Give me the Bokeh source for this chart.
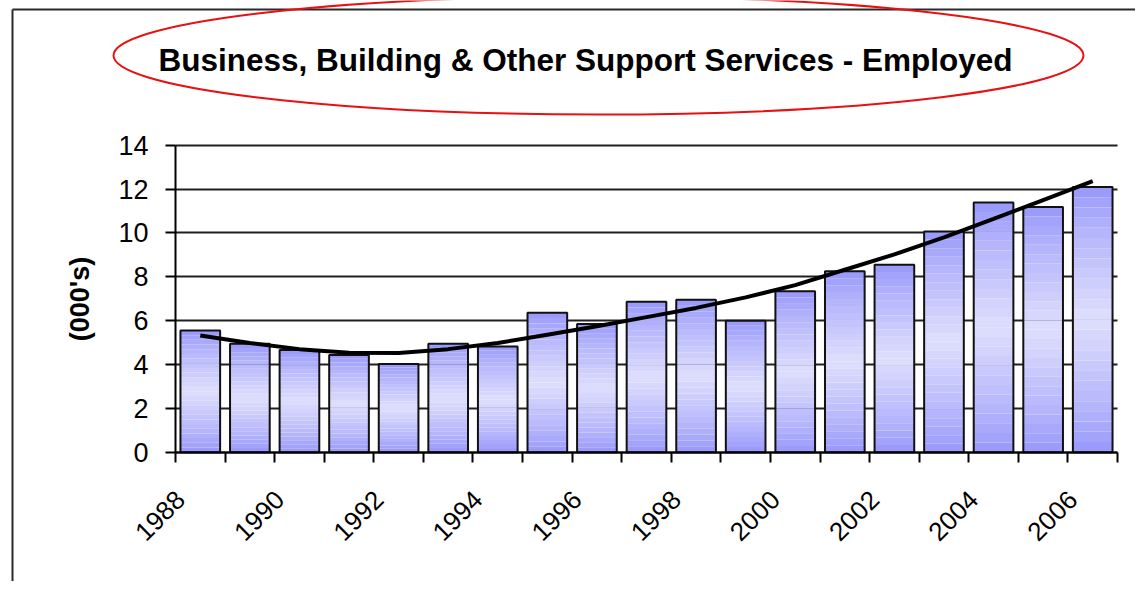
import math
from bokeh.plotting import figure
from bokeh.models import Range1d, LinearAxis, FixedTicker, Grid, Label
from bokeh.embed import file_html
from bokeh.resources import INLINE

# ---------------- data ----------------
years = [1988, 1989, 1990, 1991, 1992, 1993, 1994, 1995, 1996, 1997,
         1998, 1999, 2000, 2001, 2002, 2003, 2004, 2005, 2006]
employed = [5.55, 4.94, 4.66, 4.43, 4.02, 4.94, 4.82, 6.36, 5.85, 6.86,
            6.95, 6.0, 7.34, 8.25, 8.55, 10.07, 11.39, 11.18, 12.09]
trend = [5.32, 4.98, 4.70, 4.53, 4.52, 4.70, 4.98, 5.36, 5.74, 6.16,
         6.58, 7.06, 7.62, 8.32, 9.02, 9.80, 10.64, 11.50, 12.36]
label_years = [1988, 1990, 1992, 1994, 1996, 1998, 2000, 2002, 2004, 2006]
y_ticks = [0, 2, 4, 6, 8, 10, 12, 14]
title_text = "Business, Building & Other Support Services - Employed"
y_title = "(000's)"

# ---------------- layout (page pixels) ----------------
W, H = 1135, 581          # figure size
OFF = 0                   # page offset of the figure's top-left corner
PLOT_L, PLOT_R = 175.0, 1117.0   # page x of plot-area left/right
PY0, PY14 = 451.7, 144.7         # page y of value 0 and 14
LABEL_SHIFT = 0.40               # rotated year labels sit left of the category centre
n = len(years)
band = (PLOT_R - PLOT_L) / n
ppu = (PY0 - PY14) / (y_ticks[-1] - y_ticks[0])

x_start = (years[0] - 0.5) - (PLOT_L - OFF) / band
x_end = x_start + W / band
y_top = (PY0 - OFF) / ppu
y_bot = y_top - H / ppu

def px_x(px):
    return x_start + (px - OFF) / band

def px_y(py):
    return (PY0 - py) / ppu

p = figure(width=W, height=H, output_backend="svg", toolbar_location=None,
           x_axis_type=None, y_axis_type=None,
           x_range=Range1d(x_start, x_end), y_range=Range1d(y_bot, y_top),
           min_border=0, outline_line_color=None,
           background_fill_color="white", border_fill_color="white")
p.min_border_left = p.min_border_right = p.min_border_top = p.min_border_bottom = 0

FONT = "Liberation Sans"

# horizontal gridlines (behind bars)
grid = Grid(dimension=1, ticker=FixedTicker(ticks=y_ticks),
            cross_bounds=(years[0] - 0.5, years[-1] + 0.5),
            grid_line_color="#202020", grid_line_width=2)
p.add_layout(grid)

# gradient-filled bars: each bar drawn as stacked horizontal slices
N = 26
edge = (150, 150, 252)
center = (222, 222, 253)
xs, bots, tops, cols = [], [], [], []
for yr, v in zip(years, employed):
    for k in range(N):
        t = (k + 0.5) / N
        s = 1 - abs(2 * t - 1)
        s = s ** 0.8
        c = tuple(int(round(e + (cc - e) * s)) for e, cc in zip(edge, center))
        xs.append(yr)
        bots.append(v * k / N)
        tops.append(v * (k + 1) / N + (0.002 if k < N - 1 else 0))
        cols.append("#%02x%02x%02x" % c)
p.vbar(x=xs, bottom=bots, top=tops, width=0.8, fill_color=cols, line_color=None)
p.vbar(x=years, bottom=0, top=employed, width=0.8, fill_alpha=0,
       line_color="#111111", line_width=2)

# trend line
p.line(years, trend, line_color="black", line_width=4)

# y axis
yaxis = LinearAxis(fixed_location=years[0] - 0.5, bounds=(y_ticks[0], y_ticks[-1]),
                   ticker=FixedTicker(ticks=y_ticks),
                   axis_line_color="black", axis_line_width=2,
                   major_tick_out=10, major_tick_in=0,
                   major_tick_line_color="black", major_tick_line_width=2,
                   minor_tick_out=0, minor_tick_in=0,
                   major_label_standoff=17,
                   major_label_text_font=FONT, major_label_text_font_size="27px",
                   major_label_text_color="black",
                   axis_label=y_title, axis_label_text_font=FONT,
                   axis_label_text_font_style="bold", axis_label_text_font_size="27px",
                   axis_label_text_color="black", axis_label_standoff=20)
p.add_layout(yaxis, "left")

# x axis: boundary ticks as minor ticks, labels every other year
boundaries = [y - 0.5 for y in years] + [years[-1] + 0.5]
label_pos = [y - LABEL_SHIFT for y in label_years]
xaxis = LinearAxis(fixed_location=0, bounds=(boundaries[0], boundaries[-1]),
                   ticker=FixedTicker(ticks=label_pos, minor_ticks=boundaries),
                   axis_line_color="black", axis_line_width=2,
                   major_tick_out=0, major_tick_in=0,
                   minor_tick_out=10, minor_tick_in=0,
                   minor_tick_line_color="black", minor_tick_line_width=2,
                   major_label_orientation=math.pi / 4,
                   major_label_standoff=33,
                   major_label_overrides={pos: str(y) for pos, y in zip(label_pos, label_years)},
                   major_label_text_font=FONT, major_label_text_font_size="26px",
                   major_label_text_color="black")
p.add_layout(xaxis, "below")

# chart-area frame lines (top and left)
p.segment(x0=[px_x(12), px_x(12)], y0=[px_y(9), px_y(9)],
          x1=[px_x(1160), px_x(12)], y1=[px_y(9), px_y(620)],
          line_color="#2a2a2a", line_width=2)

# red ellipse around the title
p.ellipse(x=[px_x(598)], y=[px_y(55)], width=[970], height=[118],
          width_units="screen", height_units="screen",
          fill_alpha=0, line_color="#e81010", line_width=2)

title = Label(x=px_x(585), y=px_y(59), text=title_text,
              text_align="center", text_baseline="middle",
              text_font=FONT, text_font_style="bold", text_font_size="31.5px",
              text_color="black")
p.add_layout(title)

open("out.html", "w").write(file_html(p, INLINE))
